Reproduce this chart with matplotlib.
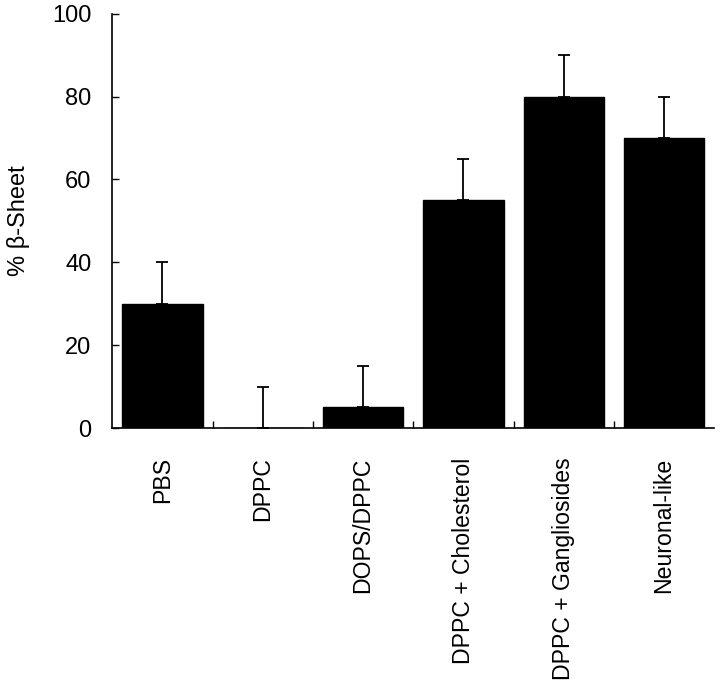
import numpy as np
import matplotlib
matplotlib.use("Agg")
import matplotlib.pyplot as plt

plt.rcParams['font.family'] = ['Liberation Sans', 'DejaVu Sans']

categories = ["PBS", "DPPC", "DOPS/DPPC", "DPPC + Cholesterol",
              "DPPC + Gangliosides", "Neuronal-like"]
beta_sheet = [30, 0, 5, 55, 80, 70]
errors = [10, 10, 10, 10, 10, 10]

x = np.arange(len(categories))

fig = plt.figure(figsize=(7.2, 6.84), dpi=100)
ax = fig.add_axes([0.156, 0.374, 0.836, 0.606])

ax.bar(x, beta_sheet, width=0.8, color="black", edgecolor="black")
ax.errorbar(x, beta_sheet, yerr=[np.zeros(len(errors)), errors], fmt="none",
            ecolor="black", elinewidth=1.3, capsize=4, capthick=1.3)

ax.set_xlim(-0.5, 5.5)
ax.set_ylim(0, 100)
ax.set_yticks([0, 20, 40, 60, 80, 100])
ax.set_ylabel("% β-Sheet", fontsize=17, labelpad=16)

ax.set_xticks(x)
ax.set_xticklabels(categories, rotation=90, fontsize=16.6, va="top")
ax.set_xticks(x[:-1] + 0.5, minor=True)
ax.tick_params(axis="x", which="major", length=0, pad=21)
ax.tick_params(axis="x", which="minor", direction="in", length=5, width=1)
ax.tick_params(axis="y", direction="in", length=5, width=1, labelsize=17, pad=15)

for side in ["top", "right"]:
    ax.spines[side].set_visible(False)
ax.spines["left"].set_linewidth(1.2)
ax.spines["bottom"].set_linewidth(1.2)

fig.savefig("out.png", dpi=100)
